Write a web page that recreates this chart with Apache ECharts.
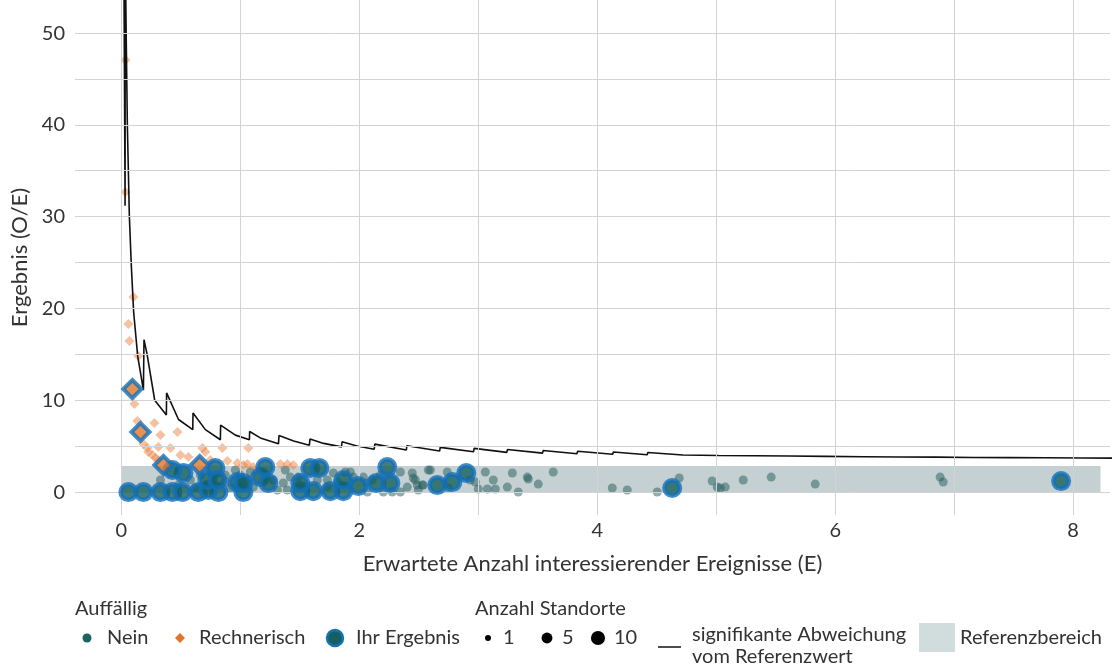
<!DOCTYPE html>
<html><head><meta charset="utf-8">
<script src="https://cdn.jsdelivr.net/npm/echarts@6/dist/echarts.min.js"></script>
<style>html,body{margin:0;padding:0;background:#fff}#c{width:1112px;height:669px}</style>
</head><body><div id="c"></div>
<script>
// ---- Achsen / Gitter ----
const xTicks = [0, 2, 4, 6, 8];
const yTicks = [0, 10, 20, 30, 40, 50];
const xGrid = [0, 1, 2, 3, 4, 5, 6, 7, 8];
const yGrid = [0, 5, 10, 15, 20, 25, 30, 35, 40, 45, 50];
// Referenzbereich: E von..bis, O/E von..bis
const refE = [0, 8.23];
const refOE = [0, 2.83];

// ---- Daten: [E, O/E, Anzahl Standorte] ----
const nein = [
[0.328,1.31,3],[0.479,0.76,3],[0.580,1.31,3],[0.622,0.44,3],[0.664,1.85,3],[0.706,0.76,3],[0.874,1.85,3],[0.874,1.09,3],
[0.916,0.44,3],[0.958,2.40,3],[1.000,1.85,3],[1.084,2.18,3],[1.067,1.31,3],[1.109,0.54,3],[1.277,1.31,3],[1.311,0.22,3],
[1.361,0.98,3],[1.378,2.40,3],[1.395,0.22,3],[1.420,1.63,3],[1.487,1.63,3],[1.647,1.31,3],[1.731,1.31,3],[1.731,0.54,3],
[1.782,2.07,3],[1.815,1.09,3],[1.882,2.18,3],[1.924,2.18,3],[1.950,1.63,3],[2.034,1.63,3],[2.067,0.00,3],[2.067,0.98,3],
[2.109,1.31,3],[2.176,1.85,3],[2.202,0.00,3],[2.277,0.00,3],[2.345,2.18,3],[2.345,0.00,3],[2.403,0.54,3],[2.445,2.07,3],
[2.454,1.53,3],[2.471,1.31,3],[2.487,0.76,3],[2.496,0.22,3],[2.529,0.76,3],[2.538,0.76,3],[2.580,2.40,3],[2.597,2.40,3],
[2.739,2.18,3],[2.748,0.44,3],[2.933,1.31,3],[2.975,1.09,3],[3.000,0.33,3],[3.059,2.18,3],[3.076,0.33,3],[3.126,1.31,3],
[3.143,0.33,3],[3.244,0.54,3],[3.286,2.07,3],[3.336,0.00,3],[3.412,1.63,3],[3.420,1.42,3],[3.504,0.87,3],[3.630,2.18,3],
[4.126,0.44,3],[4.252,0.22,3],[4.504,0.00,3],[4.689,1.53,3],[4.966,1.20,3],[5.008,0.54,3],[5.034,0.44,3],[5.076,0.54,3],
[5.227,1.31,3],[5.462,1.63,3],[5.832,0.87,3],[6.882,1.63,3],[6.908,1.09,3]
];
const rechnerisch = [
[0.034,47.06,3],[0.034,32.68,3],[0.101,21.24,3],[0.059,18.30,3],[0.067,16.45,3],[0.143,14.81,3],[0.109,9.59,3],[0.134,7.73,3],
[0.277,7.52,3],[0.328,6.21,3],[0.471,6.54,3],[0.185,5.23,3],[0.218,4.79,3],[0.227,4.36,3],[0.261,4.03,3],[0.286,3.70,3],
[0.311,3.49,3],[0.311,4.90,3],[0.412,4.79,3],[0.496,4.03,3],[0.563,3.81,3],[0.681,4.79,3],[0.706,4.36,3],[0.748,3.49,3],
[0.849,4.79,3],[0.891,3.38,3],[0.975,3.16,3],[1.025,2.94,3],[1.059,3.05,3],[1.067,4.79,3],[1.109,2.72,3],[1.336,3.05,3],
[1.395,3.05,3],[1.445,2.94,3]
];
const ihrKreis = [
[0.059,0,10],[0.185,0,10],[0.328,0,10],[0.429,0,10],[0.513,0,10],[0.647,0,10],[0.815,0,10],[1.025,0,10],
[1.504,0.1,10],[1.613,0.1,10],[1.756,0.1,10],[1.866,0.1,10],[0.731,0.22,10],[0.521,2.07,10],[0.429,2.40,10],[0.790,2.61,10],
[0.723,1.31,10],[0.807,1.31,10],[0.975,1.09,10],[1.025,0.98,10],[1.168,1.63,10],[1.210,2.72,10],[1.235,0.98,10],[1.504,0.98,10],
[1.588,2.61,10],[1.664,2.61,10],[1.866,1.31,10],[1.992,0.65,10],[2.143,0.98,10],[2.235,2.72,10],[2.261,0.98,10],[2.655,0.76,10],
[2.782,1.09,10],[2.899,2.07,10],[4.630,0.44,10],[7.899,1.20,10]
];
const ihrRaute = [[0.092,11.22,10],[0.160,6.54,10],[0.353,2.94,10],[0.658,2.94,10]];

// Grenze der signifikanten Abweichung: [E, O/E]
const grenze = [
[0.020,60],[0.031,31.2],[0.032,60],[0.040,50],[0.050,40],[0.067,30],[0.084,24.5],[0.103,19.6],[0.137,14.8],[0.185,11.1],
[0.190,16.6],[0.216,15.0],[0.280,10.0],[0.378,8.4],[0.380,10.8],[0.480,7.9],[0.600,6.8],[0.602,8.6],[0.706,6.8],[0.832,5.7],
[0.834,7.3],[0.958,6.2],[1.076,5.7],[1.078,6.6],[1.168,5.9],[1.320,5.25],[1.325,6.15],[1.448,5.56],[1.580,5.10],[1.585,5.77],
[1.700,5.30],[1.850,4.92],[1.855,5.48],[1.980,5.01],[2.125,4.66],[2.130,5.22],[2.395,4.58],[2.400,5.05],[2.675,4.47],[2.680,4.87],
[2.960,4.39],[2.965,4.76],[3.240,4.32],[3.245,4.63],[3.540,4.24],[3.545,4.52],[3.830,4.18],[3.835,4.44],[4.130,4.12],[4.135,4.36],
[4.420,4.07],[4.425,4.30],[4.720,4.03],[4.725,4.24],[5.020,3.98],[5.025,4.18],[5.320,3.95],[5.325,4.14],[5.610,3.92],[5.615,4.10],
[5.920,3.89],[5.925,4.05],[6.240,3.85],[6.245,4.01],[6.540,3.82],[6.545,3.98],[6.850,3.80],[6.855,3.94],[7.160,3.77],[7.165,3.91],
[7.460,3.75],[7.465,3.89],[7.770,3.73],[7.775,3.86],[8.080,3.71],[8.085,3.84],[8.400,3.69]
];

// Legende: Anzahl Standorte
const standorteLegende = [1, 5, 10];

const FONT = 'Lato, "Open Sans", sans-serif';
const TXT = '#333333';
const LF = '20px ' + FONT;
const sz = n => 6 * Math.pow(n, 0.37);

const chart = echarts.init(document.getElementById('c'), null, {renderer: 'canvas'});

const legendX = [488, 547, 598];
const legendLabelX = [503, 562, 614];
const graphic = [
  {type:'text', x:75, y:609, style:{text:'Auffällig', font:LF, fill:TXT, textVerticalAlign:'middle'}},
  {type:'circle', shape:{cx:87, cy:638, r:4.5}, style:{fill:'#1b6262'}},
  {type:'text', x:107, y:638, style:{text:'Nein', font:LF, fill:TXT, textVerticalAlign:'middle'}},
  {type:'polygon', shape:{points:[[180,633],[185,638],[180,643],[175,638]]}, style:{fill:'#e2742a'}},
  {type:'text', x:199, y:638, style:{text:'Rechnerisch', font:LF, fill:TXT, textVerticalAlign:'middle'}},
  {type:'circle', shape:{cx:335, cy:638, r:8}, style:{fill:'#15605f', stroke:'#1571b8', lineWidth:2.5}},
  {type:'text', x:356, y:638, style:{text:'Ihr Ergebnis', font:LF, fill:TXT, textVerticalAlign:'middle'}},
  {type:'text', x:475, y:609, style:{text:'Anzahl Standorte', font:LF, fill:TXT, textVerticalAlign:'middle'}},
  {type:'line', shape:{x1:658, y1:647, x2:681, y2:647}, style:{stroke:'#111', lineWidth:1.5}},
  {type:'text', x:692, y:635, style:{text:'signifikante Abweichung', font:LF, fill:TXT, textVerticalAlign:'middle'}},
  {type:'text', x:692, y:657, style:{text:'vom Referenzwert', font:LF, fill:TXT, textVerticalAlign:'middle'}},
  {type:'rect', shape:{x:919, y:623, width:36, height:29}, style:{fill:'#d1dcdd'}},
  {type:'text', x:960, y:638, style:{text:'Referenzbereich', font:LF, fill:TXT, textVerticalAlign:'middle'}}
];
standorteLegende.forEach((n, i) => {
  graphic.push({type:'circle', shape:{cx:legendX[i], cy:638, r:sz(n)/2}, style:{fill:'#000'}});
  graphic.push({type:'text', x:legendLabelX[i], y:638, style:{text:String(n), font:LF, fill:TXT, textVerticalAlign:'middle'}});
});

const option = {
  animation: false,
  backgroundColor: '#fff',
  textStyle: {fontFamily: FONT},
  grid: {left: 75, right: 2, top: 0, bottom: 154, containLabel: false},
  xAxis: {
    type: 'value', min: -0.39, max: 8.31,
    splitLine: {show: false}, axisLine: {show: false}, axisTick: {show: false},
    axisLabel: {customValues: xTicks, fontSize: 20, color: TXT, margin: 6, fontFamily: FONT},
    name: 'Erwartete Anzahl interessierender Ereignisse (E)', nameLocation: 'middle', nameGap: 38,
    nameTextStyle: {fontSize: 22, color: TXT, fontFamily: FONT}
  },
  yAxis: {
    type: 'value', min: -2.5, max: 53.6,
    splitLine: {show: false}, axisLine: {show: false}, axisTick: {show: false},
    axisLabel: {customValues: yTicks, fontSize: 20, color: TXT, margin: 10, fontFamily: FONT},
    name: 'Ergebnis (O/E)', nameLocation: 'middle', nameGap: 44, nameRotate: 90,
    nameTextStyle: {fontSize: 22, color: TXT, fontFamily: FONT}
  },
  graphic: graphic,
  series: [
    {
      type: 'scatter', data: [[0, 0]], symbolSize: 0, silent: true, z: 0,
      markLine: {
        silent: true, symbol: ['none', 'none'], label: {show: false},
        lineStyle: {color: '#d3d3d3', width: 1, type: 'solid'},
        emphasis: {disabled: true},
        data: xGrid.map(v => ({xAxis: v})).concat(yGrid.map(v => ({yAxis: v})))
      },
      markArea: {
        silent: true,
        itemStyle: {color: 'rgba(150,170,175,0.55)'},
        data: [[{xAxis: refE[0], yAxis: refOE[0]}, {xAxis: refE[1], yAxis: refOE[1]}]]
      }
    },
    {
      name: 'Nein', type: 'scatter', z: 2, data: nein,
      symbol: 'circle', symbolSize: v => sz(v[2]),
      itemStyle: {color: '#235c5c', opacity: 0.5}
    },
    {
      name: 'Rechnerisch', type: 'scatter', z: 3, data: rechnerisch,
      symbol: 'diamond', symbolSize: v => sz(v[2]) + 1,
      itemStyle: {color: '#e8762c', opacity: 0.45}
    },
    {
      name: 'Grenze', type: 'line', z: 4, data: grenze, showSymbol: false, clip: true,
      lineStyle: {color: '#111', width: 1.6}, silent: true
    },
    {
      name: 'Ihr Ergebnis', type: 'scatter', z: 5, data: ihrKreis,
      symbol: 'circle', symbolSize: v => sz(v[2]) + 1.5,
      itemStyle: {color: '#125f5e', borderColor: '#116fba', borderWidth: 4.5}
    },
    {
      name: 'Ihr Ergebnis Rechnerisch', type: 'scatter', z: 6, data: ihrRaute,
      symbol: 'diamond', symbolSize: v => sz(v[2]) + 4,
      itemStyle: {color: '#e07428', borderColor: '#116fba', borderWidth: 4}
    }
  ]
};
chart.setOption(option);
</script>
</body></html>
